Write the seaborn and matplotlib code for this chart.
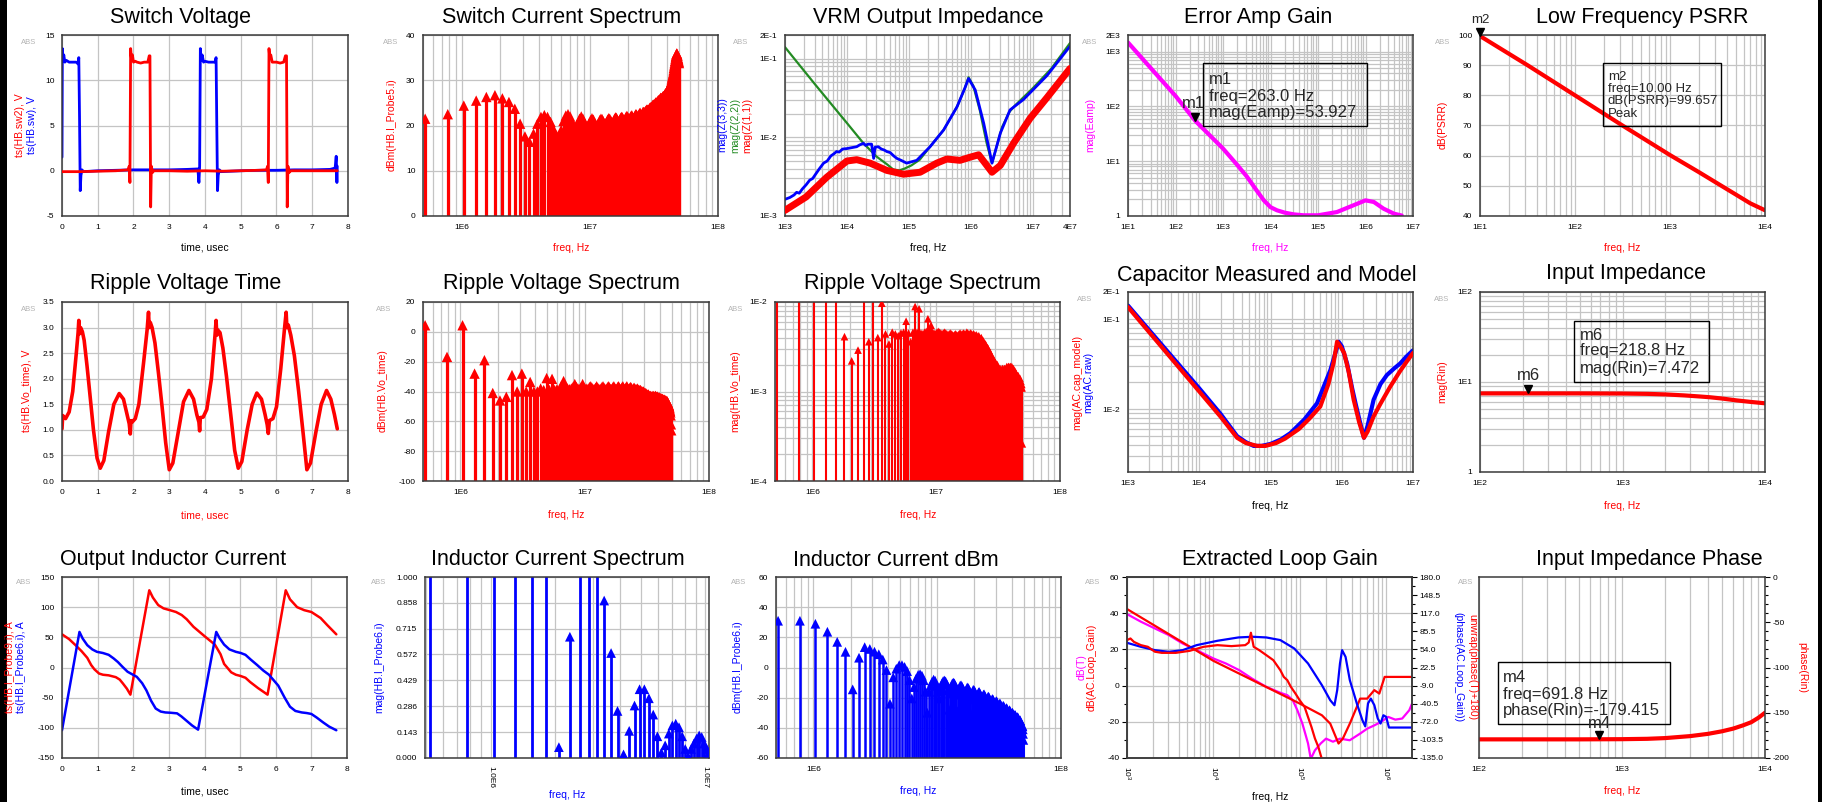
import numpy as np
import pandas as pd
import matplotlib
matplotlib.use('Agg')
import matplotlib.pyplot as plt
import matplotlib.ticker as mt
import matplotlib.transforms as mtrans
from matplotlib.patches import Rectangle
import seaborn as sns

# ---------------- DATA ----------------
F0 = 260e3  # switching fundamental, Hz
harm = list(range(2, 192))     # harmonic numbers shown in full spectra
harm12 = list(range(2, 41))    # harmonic numbers shown in inductor-current mag spectrum

# Panel 1: switch voltage (time us, V)
sw_blue_t = [0.00, 0.01, 0.03, 0.05, 0.08, 0.12, 0.20, 0.30, 0.40, 0.45,
             0.47, 0.49, 0.51, 0.53, 0.56, 0.60, 1.00, 1.50, 2.00, 2.50,
             3.00, 3.50, 3.80, 3.83, 3.85, 3.87, 3.89, 3.92, 3.96, 4.00,
             4.10, 4.20, 4.28, 4.31, 4.33, 4.35, 4.37, 4.40, 4.45, 5.00,
             5.50, 6.00, 6.50, 7.00, 7.50, 7.64, 7.67, 7.69, 7.70]
sw_blue_v = [1.5, 13.5, 12.3, 12.8, 12.0, 12.2, 12.0, 12.0, 12.0, 11.8,
             12.5, 6.0, -2.2, -0.5, 0.1, -0.1, 0.0, 0.05, 0.1, 0.1,
             0.1, 0.15, 0.2, -1.3, 0.5, 13.5, 12.2, 12.8, 12.0, 12.1,
             12.0, 12.0, 12.0, 12.5, 5.0, -2.2, -0.5, 0.1, -0.1, 0.0,
             0.05, 0.05, 0.1, 0.1, 0.15, 0.3, 1.6, -1.3, 0.5]
sw_red_t = [0.00, 0.50, 1.00, 1.50, 1.85, 1.88, 1.90, 1.92, 1.94, 1.97,
            2.00, 2.05, 2.10, 2.20, 2.30, 2.40, 2.44, 2.46, 2.48, 2.50,
            2.53, 2.57, 3.00, 3.50, 4.00, 4.50, 5.00, 5.50, 5.72, 5.75,
            5.77, 5.79, 5.81, 5.84, 5.88, 5.95, 6.00, 6.10, 6.20, 6.25,
            6.28, 6.30, 6.32, 6.35, 6.40, 7.00, 7.70]
sw_red_v = [-0.1, -0.1, -0.05, 0.0, 0.1, 0.5, -1.3, 13.5, 12.5, 12.8,
            12.0, 12.1, 12.0, 11.9, 12.0, 12.0, 12.7, 12.7, -4.0, 0.5,
            -0.2, 0.0, 0.0, -0.05, 0.0, -0.05, 0.0, 0.05, 0.1, 0.5,
            -1.3, 13.5, 12.5, 12.8, 12.0, 12.0, 12.0, 11.9, 12.0, 12.7,
            12.7, -4.0, 0.5, -0.2, 0.0, 0.0, 0.0]

# Panel 2: switch current spectrum (dBm), harmonics 2..191
sw_cur_dbm = [21.5, 22.5, 24.4, 25.5, 26.3, 26.7, 26.0, 25.2, 23.7, 20.4,
              17.6, 16.4, 18.2, 20.4, 21.9, 22.3, 21.9, 20.8, 19.2, 17.8,
              17.5, 19.0, 21.0, 22.2, 22.5, 22.0, 20.8, 19.6, 19.5, 20.5,
              21.5, 22.0, 21.5, 20.5, 19.6, 19.7, 20.5, 21.2, 21.6, 21.3,
              20.6, 20.0, 20.0, 20.6, 21.2, 21.5, 21.4, 20.9, 20.4, 20.4,
              20.8, 21.3, 21.6, 21.5, 21.1, 20.7, 20.6, 21.0, 21.5, 21.8,
              21.7, 21.3, 20.9, 20.9, 21.3, 21.7, 21.9, 21.8, 21.4, 21.1,
              21.2, 21.6, 22.0, 22.1, 21.9, 21.5, 21.3, 21.5, 21.9, 22.2,
              22.2, 21.9, 21.6, 21.6, 21.9, 22.3, 22.5, 22.4, 22.1, 21.9,
              22.0, 22.4, 22.7, 22.8, 22.6, 22.3, 22.3, 22.6, 23.0, 23.0,
              22.9, 22.9, 23.0, 23.2, 23.4, 23.5, 23.5, 23.4, 23.4, 23.5,
              23.7, 23.9, 24.0, 24.0, 24.0, 24.1, 24.3, 24.5, 24.6, 24.6,
              24.5, 24.6, 24.8, 25.0, 25.1, 25.1, 25.0, 25.1, 25.3, 25.5,
              25.6, 25.6, 25.6, 25.7, 25.9, 26.1, 26.1, 26.0, 26.0, 26.1,
              26.3, 26.4, 26.5, 26.5, 26.5, 26.6, 26.8, 27.0, 27.1, 27.1,
              27.1, 27.2, 27.4, 27.6, 27.8, 27.9, 27.9, 28.0, 28.2, 28.5,
              28.8, 29.0, 29.1, 29.3, 29.6, 30.0, 30.4, 30.7, 31.0, 31.3,
              31.7, 32.2, 32.7, 33.1, 33.5, 33.9, 34.3, 34.7, 35.1, 35.4,
              35.7, 35.9, 35.9, 35.7, 35.4, 35.0, 34.7, 34.4, 34.1, 33.8]

# Panel 3: VRM output impedance
z22_f = [1e3, 3e3, 1e4, 1.85e4, 3e4, 4.5e4, 5.6e4, 7e4, 8.5e4, 1.1e5,
         1.5e5, 2.2e5, 3.64e5, 6e5, 8e5, 9.2e5, 1.1e6, 1.4e6, 1.8e6, 2.2e6,
         2.6e6, 3.2e6, 4.2e6, 5.2e6, 7e6, 1e7, 2e7, 4e7]
z22_v = [0.14, 0.048, 0.0152, 0.0084, 0.0057, 0.0045, 0.0039, 0.0038, 0.0040, 0.0044,
         0.0052, 0.0076, 0.0124, 0.0245, 0.042, 0.058, 0.045, 0.022, 0.0085, 0.0047,
         0.0075, 0.0135, 0.021, 0.0255, 0.032, 0.042, 0.075, 0.158]
z33_f = [1e3, 1.2e3, 1.4e3, 1.54e3, 1.7e3, 1.9e3, 2.2e3, 2.5e3, 2.8e3, 3.2e3,
         3.6e3, 4.2e3, 4.8e3, 5.5e3, 6.2e3, 6.8e3, 7.5e3, 8.5e3, 1e4, 1.2e4,
         1.44e4, 1.6e4, 1.85e4, 2.0e4, 2.2e4, 2.5e4, 2.7e4, 2.85e4, 3.2e4, 3.6e4,
         4.0e4, 4.4e4, 5e4, 5.7e4, 6.4e4, 7.5e4, 9.2e4, 1.34e5, 2.2e5, 3.64e5,
         6e5, 8e5, 9.2e5, 1.18e6, 1.62e6, 2.2e6, 3.0e6, 4.3e6, 7.1e6, 1.7e7,
         4e7]
z33_v = [0.00163, 0.00172, 0.00185, 0.0020, 0.00195, 0.0022, 0.0025, 0.00285, 0.0030, 0.0035,
         0.0040, 0.0047, 0.0050, 0.0058, 0.0062, 0.0066, 0.0065, 0.0071, 0.0072, 0.0074,
         0.0076, 0.0080, 0.0084, 0.0079, 0.0082, 0.0082, 0.0054, 0.0075, 0.0076, 0.0071,
         0.0069, 0.0066, 0.0064, 0.0058, 0.0054, 0.0051, 0.0047, 0.0051, 0.0076, 0.0124,
         0.0245, 0.042, 0.056, 0.040, 0.015, 0.0047, 0.0113, 0.0223, 0.0303, 0.061,
         0.144]
z11_f = [1e3, 2.2e3, 4.7e3, 1e4, 1.44e4, 2.37e4, 4.4e4, 8.2e4, 1.52e5, 2.82e5,
         4.1e5, 6.7e5, 9.8e5, 1.34e6, 1.7e6, 2.2e6, 3e6, 4.9e6, 9.1e6, 1.7e7,
         4e7]
z11_v = [0.00118, 0.00175, 0.0031, 0.005, 0.0052, 0.0047, 0.0038, 0.0034, 0.0036, 0.0047,
         0.0053, 0.0051, 0.0056, 0.006, 0.0047, 0.0036, 0.0044, 0.0084, 0.0175, 0.032,
         0.075]

# Panel 4: error amp gain
eamp_f = [10, 100, 263, 1000, 2000, 3200, 5000, 7200, 1.0e4, 1.37e4,
          2.0e4, 3.1e4, 5.0e4, 1.0e5, 2.5e5, 5.6e5, 1.0e6, 1.5e6, 2.4e6, 4.0e6,
          5.8e6]
eamp_v = [1460, 155, 54, 17, 8.5, 5.2, 3.0, 1.94, 1.45, 1.27,
          1.15, 1.07, 1.03, 1.03, 1.18, 1.57, 1.93, 1.8, 1.36, 1.1,
          1.02]

# Panel 5: PSRR
psrr_f = [10, 31.6, 100, 316, 1000, 2000, 3160, 5000, 7000, 10000]
psrr_v = [99.66, 90.0, 80.0, 70.0, 60.2, 54.6, 50.8, 47.0, 44.2, 41.9]

# Panel 6: ripple voltage time
rip_t = [0.00, 0.02, 0.10, 0.20, 0.30, 0.40, 0.45, 0.47, 0.49, 0.52,
         0.57, 0.62, 0.70, 0.78, 0.88, 0.98, 1.07, 1.17, 1.30, 1.45,
         1.60, 1.72, 1.82, 1.88, 1.91, 1.93, 1.96, 2.05, 2.15, 2.28,
         2.38, 2.42, 2.44, 2.47, 2.52, 2.60, 2.70, 2.80, 2.90, 3.00,
         3.10, 3.25, 3.40, 3.55, 3.68, 3.77, 3.83, 3.85, 3.87, 3.95,
         4.05, 4.18, 4.28, 4.31, 4.33, 4.36, 4.42, 4.50, 4.60, 4.72,
         4.83, 4.93, 5.03, 5.18, 5.32, 5.45, 5.58, 5.68, 5.74, 5.77,
         5.80, 5.90, 6.00, 6.12, 6.22, 6.27, 6.29, 6.33, 6.40, 6.50,
         6.62, 6.75, 6.85, 6.95, 7.10, 7.25, 7.40, 7.52, 7.62, 7.70]
rip_v = [1.02, 1.28, 1.22, 1.35, 1.75, 2.50, 2.90, 3.14, 2.88, 3.00,
         2.92, 2.75, 2.25, 1.70, 1.00, 0.45, 0.25, 0.40, 0.95, 1.50,
         1.71, 1.60, 1.30, 1.12, 0.92, 1.18, 1.15, 1.22, 1.50, 2.30,
         2.95, 3.30, 3.00, 3.10, 3.00, 2.70, 2.10, 1.45, 0.75, 0.22,
         0.35, 0.95, 1.55, 1.77, 1.60, 1.30, 1.15, 0.98, 1.24, 1.25,
         1.40, 2.00, 2.85, 3.14, 2.85, 2.95, 2.90, 2.60, 2.05, 1.30,
         0.60, 0.25, 0.38, 1.00, 1.50, 1.72, 1.60, 1.30, 1.10, 0.93,
         1.18, 1.22, 1.45, 2.20, 2.95, 3.30, 3.00, 3.05, 2.85, 2.45,
         1.75, 0.90, 0.22, 0.35, 0.95, 1.50, 1.77, 1.60, 1.30, 1.02]

# Panel 7: ripple voltage spectrum (dBm)
rip_dbm = [4.4, -16.8, 4.4, -28, -19, -41, -46, -43.6, -29, -40,
           -28, -40, -33.6, -40, -40, -38, -39, -31, -39, -31.5,
           -39, -38.5, -39, -36, -33, -37, -38, -38.5, -38, -37,
           -35, -37, -38, -38.5, -37, -35, -37.5, -38.5, -38, -38.5,
           -37, -36.5, -37.5, -38.5, -38.5, -37.5, -36.5, -37.5, -38.5, -38.5,
           -38, -37, -36.5, -37.5, -38.5, -38.5, -38, -37, -36.5, -37.5,
           -38.5, -38.5, -38, -37, -36.5, -37.5, -38.5, -38.5, -38, -37,
           -36.5, -37.5, -38.5, -38.5, -38, -37, -36.5, -37.5, -38.5, -38.5,
           -38, -37, -36.5, -37.5, -38.5, -38.5, -38, -37.5, -37, -37.5,
           -38.5, -39, -38.5, -38, -37.5, -38, -38.5, -39, -39, -38.5,
           -38, -38.5, -39, -39.5, -39.5, -39, -39, -39.5, -40, -40.5,
           -40.5, -40, -40, -40.5, -41, -41.5, -41.5, -41, -41.5, -42,
           -42.5, -42.5, -42, -42, -42.5, -43, -43.5, -43.5, -43, -43,
           -43.5, -44, -44, -43.5, -43, -43, -43.5, -44, -44, -43.5,
           -43, -43, -43.5, -44, -44, -43.5, -43.5, -44, -44.5, -44.5,
           -44, -44, -44.5, -45, -45, -44.5, -44.5, -45, -45.5, -45.5,
           -45, -45, -45.5, -46, -46, -45.5, -45.5, -46, -46.5, -46.5,
           -46, -46, -46.5, -47, -47, -46.5, -47, -47.5, -48, -48.5,
           -49, -49.5, -50, -51, -52, -53, -54, -56, -62, -66]

# Panel 8: ripple voltage spectrum (mag)
rip_mag = [0.525, 0.046, 0.525, 0.0126, 0.035, 0.0041, 0.0022, 0.0029, 0.011, 0.0036,
           0.0126, 0.0040, 0.0097, 0.0044, 0.0034, 0.0046, 0.0044, 0.0042, 0.0045, 0.0046,
           0.0061, 0.0045, 0.0036, 0.0046, 0.0089, 0.0046, 0.0084, 0.0045, 0.0044, 0.0046,
           0.0047, 0.0065, 0.0047, 0.0055, 0.0046, 0.0045, 0.0044, 0.0046, 0.0047, 0.0046,
           0.0045, 0.0044, 0.0045, 0.0046, 0.0045, 0.0044, 0.0043, 0.0044, 0.0045, 0.0044,
           0.0043, 0.0042, 0.0043, 0.0044, 0.0043, 0.0042, 0.0043, 0.0044, 0.0045, 0.0044,
           0.0043, 0.0044, 0.0045, 0.0044, 0.0043, 0.0044, 0.0046, 0.0045, 0.0044, 0.0043,
           0.0044, 0.0045, 0.0044, 0.0042, 0.0043, 0.0044, 0.0043, 0.0041, 0.0042, 0.0043,
           0.0042, 0.0040, 0.0041, 0.0042, 0.0040, 0.0038, 0.0039, 0.0040, 0.0038, 0.0036,
           0.0037, 0.0036, 0.0034, 0.0033, 0.0034, 0.0033, 0.0031, 0.0030, 0.0031, 0.0030,
           0.0028, 0.0027, 0.0028, 0.0027, 0.0025, 0.0024, 0.0025, 0.0024, 0.0023, 0.0022,
           0.0023, 0.0022, 0.0021, 0.0020, 0.0021, 0.0020, 0.0019, 0.0019, 0.0020, 0.0019,
           0.0017, 0.0017, 0.0018, 0.0017, 0.0016, 0.0017, 0.0018, 0.0017, 0.0016, 0.0017,
           0.0018, 0.0018, 0.0017, 0.0016, 0.0017, 0.0018, 0.0018, 0.0017, 0.0016, 0.0017,
           0.0018, 0.0019, 0.0018, 0.0017, 0.0018, 0.0019, 0.0019, 0.0018, 0.0017, 0.0018,
           0.0019, 0.0019, 0.0018, 0.0017, 0.0018, 0.0019, 0.0018, 0.0017, 0.0016, 0.0017,
           0.0018, 0.0017, 0.0016, 0.0016, 0.0017, 0.0016, 0.0015, 0.0015, 0.0016, 0.0015,
           0.0014, 0.0015, 0.0015, 0.0014, 0.0014, 0.0015, 0.0014, 0.0013, 0.0014, 0.0013,
           0.0013, 0.0014, 0.0013, 0.0012, 0.0013, 0.0012, 0.0011, 0.0012, 0.0011, 0.00026]

# Panel 9: capacitor measured / model
cap_raw_f = [1e3, 1e4, 2e4, 3.4e4, 4.5e4, 5.8e4, 7.5e4, 1e5, 1.4e5, 1.9e5,
             3e5, 4.5e5, 6.93e5, 8e5, 9.05e5, 1.0e6, 1.19e6, 1.4e6, 1.56e6, 1.8e6,
             2.05e6, 2.3e6, 2.8e6, 3.5e6, 4.3e6, 5.5e6, 6.6e6, 8e6, 1e7]
cap_raw_v = [0.1415, 0.017, 0.0088, 0.005, 0.0043, 0.0039, 0.0039, 0.0041, 0.0046, 0.0054,
             0.0077, 0.0116, 0.0272, 0.040, 0.056, 0.050, 0.032, 0.017, 0.0116, 0.0072,
             0.0048, 0.0065, 0.0127, 0.019, 0.0239, 0.0285, 0.0321, 0.038, 0.045]
cap_mod_f = [1e3, 1e4, 2e4, 3.4e4, 4.5e4, 6.5e4, 8.5e4, 1.2e5, 1.6e5, 2.5e5,
             3.5e5, 5e5, 6.5e5, 7.7e5, 8.6e5, 9.5e5, 1.08e6, 1.25e6, 1.47e6, 1.75e6,
             2.05e6, 2.3e6, 2.8e6, 3.5e6, 4.8e6, 6.5e6, 8e6, 1e7]
cap_mod_v = [0.136, 0.0157, 0.0082, 0.0048, 0.0042, 0.0039, 0.0039, 0.0042, 0.0047, 0.006,
             0.0078, 0.0107, 0.019, 0.033, 0.056, 0.05, 0.042, 0.026, 0.0127, 0.0072,
             0.0048, 0.0056, 0.0083, 0.0115, 0.0178, 0.026, 0.033, 0.042]

# Panel 10: input impedance
rin_f = [100, 200, 500, 1000, 1500, 2000, 2700, 3500, 4100, 5000, 6300, 8000, 10000]
rin_v = [7.47, 7.47, 7.47, 7.44, 7.38, 7.28, 7.1, 6.9, 6.77, 6.55, 6.25, 6.0, 5.8]

# Panel 11: output inductor currents
ind9_t = [0.00, 0.20, 0.38, 0.55, 0.71, 0.82, 0.91, 1.04, 1.15, 1.31,
          1.51, 1.62, 1.71, 1.82, 1.92, 2.45, 2.55, 2.70, 2.85, 3.03,
          3.20, 3.36, 3.50, 3.69, 4.02, 4.29, 4.45, 4.55, 4.75, 4.88,
          5.01, 5.15, 5.28, 5.50, 5.77, 6.28, 6.40, 6.60, 6.80, 7.00,
          7.26, 7.45, 7.70]
ind9_v = [55, 47, 37, 27, 16, 4, -3, -10, -12, -13,
          -16, -20, -26.5, -35, -45, 128, 116, 103.5, 98, 95,
          92, 87, 80, 67.5, 51, 38, 22, 6, -8, -12,
          -14, -17, -24, -34, -45, 128, 113, 100, 95, 92,
          82, 70, 55]
ind6_t = [0.00, 0.49, 0.58, 0.71, 0.85, 0.98, 1.15, 1.31, 1.45, 1.57,
          1.70, 1.84, 2.10, 2.25, 2.37, 2.50, 2.63, 2.77, 2.90, 3.05,
          3.23, 3.35, 3.49, 3.65, 3.82, 4.33, 4.42, 4.55, 4.70, 4.88,
          5.02, 5.15, 5.30, 5.48, 5.65, 5.81, 6.07, 6.25, 6.40, 6.55,
          6.73, 6.87, 7.00, 7.15, 7.33, 7.50, 7.70]
ind6_v = [-104, 59, 48, 37, 30, 26, 24, 21, 15, 9,
          1, -7, -15.5, -26, -38, -55, -68, -73, -74.5, -75,
          -76, -81, -88, -96, -103, 59, 49, 38, 30, 26,
          24, 21, 13, 4, -5, -12, -30, -50, -65, -72,
          -74.5, -75.5, -77, -83, -91, -98, -104]

# Panel 12: inductor current spectrum (mag), harmonics 2..40
ind_mag = [11.2, 11.2, 8.9, 4.8, 2.2, 1.05, 0.06, 0.67, 1.5, 1.3,
           1.05, 0.87, 0.58, 0.26, 0.02, 0.15, 0.29, 0.38, 0.38, 0.33,
           0.24, 0.12, 0.03, 0.07, 0.135, 0.18, 0.19, 0.17, 0.12, 0.05,
           0.01, 0.05, 0.08, 0.107, 0.125, 0.116, 0.08, 0.05, 0.03]

# Panel 13: inductor current spectrum (dBm), harmonics 2..191
ind_dbm = [31.0, 31.0, 29.0, 23.7, 17.0, 10.4, -14.5, 6.5, 13.5, 12.3,
           10.5, 8.8, 5.3, -1.7, -24.0, -6.5, -0.8, 1.6, 1.6, 0.4,
           -2.4, -8.4, -20.5, -13.0, -7.4, -4.9, -4.4, -5.4, -8.4, -16.0,
           -30.0, -16.0, -12.0, -9.4, -8.0, -8.7, -12.0, -16.0, -20.5, -14.0,
           -10.5, -9.0, -8.6, -9.2, -11.0, -15.0, -28.0, -17.0, -12.5, -10.5,
           -10.0, -10.5, -12.0, -16.0, -29.0, -18.0, -13.5, -12.0, -11.8, -12.5,
           -14.0, -18.0, -30.0, -19.5, -15.0, -13.5, -13.2, -14.0, -15.5, -19.5,
           -31.0, -20.5, -16.5, -15.0, -14.8, -15.5, -17.0, -21.0, -32.0, -22.0,
           -18.0, -16.5, -16.2, -17.0, -18.5, -22.5, -33.0, -23.5, -19.5, -18.0,
           -17.8, -18.5, -20.0, -24.0, -34.0, -25.0, -21.0, -19.5, -19.3, -20.0,
           -21.5, -25.5, -35.0, -26.5, -22.5, -21.0, -21.0, -21.5, -23.0, -27.0,
           -36.0, -28.0, -24.0, -22.5, -22.3, -23.0, -24.5, -28.5, -37.0, -29.5,
           -25.5, -24.0, -24.0, -24.5, -26.0, -30.0, -38.0, -31.0, -27.0, -25.5,
           -25.5, -26.0, -27.5, -31.5, -39.0, -32.5, -28.5, -27.0, -27.0, -27.5,
           -29.0, -33.0, -40.0, -34.0, -30.0, -28.5, -28.3, -29.0, -30.5, -34.5,
           -41.0, -35.5, -31.5, -30.0, -30.0, -30.5, -32.0, -36.0, -42.0, -37.0,
           -33.0, -31.5, -31.5, -32.0, -33.5, -37.5, -43.0, -38.5, -34.5, -33.0,
           -33.0, -33.5, -35.0, -39.0, -44.0, -40.0, -36.0, -35.0, -35.0, -36.0,
           -37.5, -41.5, -46.0, -42.5, -39.0, -38.5, -39.0, -41.0, -44.0, -48.0]

# Panel 14: extracted loop gain
dbT_f = [1.0e3, 1.45e3, 2.1e3, 3.05e3, 4.4e3, 6.4e3, 1.0e4, 1.4e4, 2.0e4, 2.8e4,
         4.1e4, 6.0e4, 7.2e4, 8.3e4, 9.4e4, 1.075e5, 1.16e5, 1.25e5, 1.345e5, 1.5e5,
         1.75e5, 2.02e5, 2.43e5, 2.93e5, 3.8e5, 5.02e5, 6.05e5, 7.3e5, 8.8e5, 1.06e6,
         1.28e6, 1.54e6, 1.86e6, 2.0e6]
dbT_v = [39.5, 35.3, 31.6, 27.9, 23.3, 19.6, 15.0, 12.2, 8.5, 3.9,
         -0.7, -4.0, -5.3, -8.0, -13.6, -21.0, -26.5, -32.0, -40.5, -35.8,
         -32.0, -29.3, -31.0, -29.3, -30.2, -26.5, -23.8, -22.0, -20.0, -17.3,
         -18.8, -18.2, -13.6, -10.0]
dbG_f = [1.0e3, 1.0e4, 1.0e5, 1.81e5, 2.26e5, 2.62e5, 2.82e5, 3.16e5, 3.81e5, 4.59e5,
         5.02e5, 6.05e5, 7.32e5, 8.36e5, 9.64e5, 2.0e6]
dbG_v = [42.3, 13.7, -9.9, -16.4, -21.0, -28.4, -32.0, -29.3, -21.0, -11.8,
         -7.2, -7.2, -2.5, -4.4, 4.8, 4.8]
phT_f = [1000, 1097, 1204, 1449, 1745, 2101, 2529, 3666, 5313, 7700,
         11160, 16170, 23440, 25710, 27240, 29330, 34000, 41060, 49500, 59700,
         65400, 71900, 78900, 89300, 100000, 113900, 124800, 136900, 150200, 164700,
         180700]
phT_v = [70.2, 73.0, 67.0, 61.4, 58.5, 50.0, 48.0, 48.0, 51.5, 58.5,
         61.4, 59.7, 61.4, 66.0, 83.0, 58.5, 52.7, 44.0, 35.3, 17.8,
         6.2, 0.4, -11.0, -22.8, -34.5, -46.0, -63.5, -81.0, -101.0, -116.0,
         -137.0]
phG_f = [1000, 1449, 2101, 3046, 4417, 6404, 11160, 19510, 28400, 41060,
         59700, 86500, 125000, 181000, 226000, 253000, 272000, 293000, 310000, 340000,
         381000, 459000, 533000, 575000, 619000, 667000, 732000, 803000, 865000, 932000,
         1004000, 1082000, 2000000]
phG_v = [65.5, 58.5, 52.7, 49.8, 52.7, 61.4, 69.0, 74.8, 76.0, 74.8,
         70.2, 55.6, 29.5, -8.3, -34.5, -43.2, -17.0, 29.5, 52.7, 41.0,
         0.4, -40.0, -69.3, -80.0, -40.0, -31.6, -43.0, -66.4, -75.0, -60.6,
         -63.5, -82.0, -82.0]

# Panel 15: input impedance phase
phrin_f = [100, 200, 500, 1000, 1500, 2000, 3000, 4000, 5000, 6000, 7000, 8000, 9000, 10000]
phrin_v = [-179.4, -179.4, -179.4, -179.2, -178.8, -178.0, -175.8, -173.3, -170.5, -167.5,
           -164.0, -160.5, -155.5, -150.0]

# ---------------- STYLE ----------------
sns.set_theme(style='white')
plt.rcParams['font.family'] = ['Liberation Sans', 'DejaVu Sans']
plt.rcParams['axes.unicode_minus'] = False

W, H = 1822, 802
fig = plt.figure(figsize=(W / 100, H / 100), dpi=100)
fig.patch.set_facecolor('white')

RED = '#ff0000'; BLUE = '#0000ff'; GREEN = '#238b23'; MAG = '#ff00ff'; BLK = '#000000'
GRID = '#c4c4c4'


def mkax(l, t, r, b):
    ax = fig.add_axes([l / W, 1 - b / H, (r - l) / W, (b - t) / H])
    ax.set_facecolor('white')
    for s in ax.spines.values():
        s.set_color('#3a3a3a'); s.set_linewidth(1.1); s.set_visible(True)
    ax.tick_params(which='both', direction='out', labelsize=6, colors='#000000', width=0.8, pad=2)
    ax.tick_params(which='major', length=3.5)
    ax.tick_params(which='minor', length=2)
    ax.set_axisbelow(True)
    return ax


def grid(ax, xminor=False, yminor=False, x=True, y=True):
    if x:
        ax.xaxis.grid(True, which='major', color=GRID, lw=0.9)
    if y:
        ax.yaxis.grid(True, which='major', color=GRID, lw=0.9)
    if xminor:
        ax.xaxis.grid(True, which='minor', color=GRID, lw=0.9)
    if yminor:
        ax.yaxis.grid(True, which='minor', color=GRID, lw=0.9)


def logaxis(axis, ticks, labels):
    axis.set_major_locator(mt.FixedLocator(ticks))
    axis.set_major_formatter(mt.FixedFormatter(labels))
    axis.set_minor_locator(mt.LogLocator(base=10, subs=np.arange(2, 10), numticks=40))
    axis.set_minor_formatter(mt.NullFormatter())


def linaxis(axis, step, minor, fmt=None):
    axis.set_major_locator(mt.MultipleLocator(step))
    axis.set_minor_locator(mt.MultipleLocator(minor))
    if fmt:
        axis.set_major_formatter(mt.FormatStrFormatter(fmt))


def curve(ax, x, y, color, lw, z=2):
    df = pd.DataFrame({'x': x, 'y': y})
    sns.lineplot(data=df, x='x', y='y', ax=ax, color=color, linewidth=lw, sort=False,
                 estimator=None, legend=False, zorder=z)
    ax.set_xlabel(''); ax.set_ylabel('')


def spectrum(ax, f, v, base, color, lw, ms):
    ax.vlines(f, base, v, colors=color, linewidth=lw, zorder=2)
    sns.scatterplot(x=f, y=v, ax=ax, marker='^', s=ms ** 2, color=color, edgecolor='none',
                    linewidth=0, zorder=3, legend=False)
    ax.set_xlabel(''); ax.set_ylabel('')


def ftext(x, y, s, **kw):
    fig.text(x / W, 1 - y / H, s, **kw)


def title(x, y, s):
    ftext(x, y, s, ha='center', va='center', fontsize=15.5, color='black')


def xlab(x, y, s, c):
    ftext(x, y, s, ha='center', va='center', fontsize=7.5, color=c)


def ylab(x, y, s, c, rot=90):
    ftext(x, y, s, ha='center', va='center', fontsize=7.5, color=c, rotation=rot)


def absl(x, y):
    ftext(x, y, 'ABS', ha='center', va='center', fontsize=5.5, color='#a6a6a6', alpha=0.85)


def box(x0, y0, x1, y1):
    fig.add_artist(Rectangle((x0 / W, 1 - y1 / H), (x1 - x0) / W, (y1 - y0) / H,
                             transform=fig.transFigure, fill=False, ec='black', lw=1.0))


def marker(ax, x, y):
    tr = mtrans.offset_copy(ax.transData, fig=fig, x=0, y=4, units='dots')
    ax.plot([x], [y], marker='v', color='black', ms=6, transform=tr, clip_on=False, zorder=6, ls='none')


fh = [n * F0 for n in harm]
fh12 = [n * F0 for n in harm12]

# ---------- Panel 1 ----------
ax = mkax(62, 35, 348, 216)
curve(ax, sw_blue_t, sw_blue_v, BLUE, 2.0)
curve(ax, sw_red_t, sw_red_v, RED, 2.0, z=3)
ax.set_xlim(0, 8); ax.set_ylim(-5, 15)
linaxis(ax.xaxis, 1, 0.2); linaxis(ax.yaxis, 5, 1)
grid(ax)

# ---------- Panel 2 ----------
ax = mkax(423, 35, 718, 216)
ax.set_xscale('log')
spectrum(ax, fh, sw_cur_dbm, 0, RED, 2.3, 7.5)
ax.set_xlim(5e5, 1e8); ax.set_ylim(0, 40)
logaxis(ax.xaxis, [1e6, 1e7, 1e8], ['1E6', '1E7', '1E8'])
linaxis(ax.yaxis, 10, 2)
grid(ax, xminor=True)

# ---------- Panel 3 ----------
ax = mkax(785, 35, 1070, 216)
ax.set_xscale('log'); ax.set_yscale('log')
curve(ax, z22_f, z22_v, GREEN, 1.6)
curve(ax, z33_f, z33_v, BLUE, 2.0)
curve(ax, z11_f, z11_v, RED, 5.0, z=3)
ax.set_xlim(1e3, 4e7); ax.set_ylim(1e-3, 2e-1)
logaxis(ax.xaxis, [1e3, 1e4, 1e5, 1e6, 1e7, 4e7], ['1E3', '1E4', '1E5', '1E6', '1E7', '4E7'])
logaxis(ax.yaxis, [1e-3, 1e-2, 1e-1, 2e-1], ['1E-3', '1E-2', '1E-1', '2E-1'])
grid(ax, True, True)

# ---------- Panel 4 ----------
ax = mkax(1128, 35, 1413, 216)
ax.set_xscale('log'); ax.set_yscale('log')
curve(ax, eamp_f, eamp_v, MAG, 3.0)
ax.set_xlim(10, 1e7); ax.set_ylim(1, 2e3)
logaxis(ax.xaxis, [1e1, 1e2, 1e3, 1e4, 1e5, 1e6, 1e7], ['1E1', '1E2', '1E3', '1E4', '1E5', '1E6', '1E7'])
logaxis(ax.yaxis, [1, 10, 100, 1000, 2000], ['1', '1E1', '1E2', '1E3', '2E3'])
grid(ax, True, True)
marker(ax, 263, 53.927)
ftext(1193, 104, 'm1', ha='center', va='center', fontsize=12)
box(1203, 63, 1367, 126)
for yy, s in zip([79, 96, 113], ['m1', 'freq=263.0 Hz', 'mag(Eamp)=53.927']):
    ftext(1209, yy, s, ha='left', va='center', fontsize=12)

# ---------- Panel 5 ----------
ax = mkax(1480, 35, 1765, 216)
ax.set_xscale('log')
curve(ax, psrr_f, psrr_v, RED, 3.0)
ax.set_xlim(10, 1e4); ax.set_ylim(40, 100)
logaxis(ax.xaxis, [1e1, 1e2, 1e3, 1e4], ['1E1', '1E2', '1E3', '1E4'])
linaxis(ax.yaxis, 10, 2.5)
grid(ax, xminor=True)
marker(ax, 10, 99.657)
ftext(1480, 20, 'm2', ha='center', va='center', fontsize=9.5)
box(1603, 63, 1721, 126)
for yy, s in zip([77, 89, 101, 114], ['m2', 'freq=10.00 Hz', 'dB(PSRR)=99.657', 'Peak']):
    ftext(1608, yy, s, ha='left', va='center', fontsize=9.5)

# ---------- Panel 6 ----------
ax = mkax(62, 302, 348, 481)
curve(ax, rip_t, rip_v, RED, 2.6)
ax.set_xlim(0, 8); ax.set_ylim(0, 3.5)
linaxis(ax.xaxis, 1, 0.2); linaxis(ax.yaxis, 0.5, 0.1, '%.1f')
grid(ax)

# ---------- Panel 7 ----------
ax = mkax(423, 302, 709, 481)
ax.set_xscale('log')
spectrum(ax, fh, rip_dbm, -100, RED, 2.3, 7.5)
ax.set_xlim(5e5, 1e8); ax.set_ylim(-100, 20)
logaxis(ax.xaxis, [1e6, 1e7, 1e8], ['1E6', '1E7', '1E8'])
linaxis(ax.yaxis, 20, 10)
grid(ax, xminor=True)

# ---------- Panel 8 ----------
ax = mkax(775, 302, 1060, 481)
ax.set_xscale('log'); ax.set_yscale('log')
spectrum(ax, fh, rip_mag, 1e-4, RED, 1.5, 5.5)
ax.set_xlim(5e5, 1e8); ax.set_ylim(1e-4, 1e-2)
logaxis(ax.xaxis, [1e6, 1e7, 1e8], ['1E6', '1E7', '1E8'])
logaxis(ax.yaxis, [1e-4, 1e-3, 1e-2], ['1E-4', '1E-3', '1E-2'])
grid(ax, True, True)

# ---------- Panel 9 ----------
ax = mkax(1128, 292, 1413, 472)
ax.set_xscale('log'); ax.set_yscale('log')
curve(ax, cap_raw_f, cap_raw_v, BLUE, 3.0)
curve(ax, cap_mod_f, cap_mod_v, RED, 3.0, z=3)
ax.set_xlim(1e3, 1e7); ax.set_ylim(2e-3, 2e-1)
logaxis(ax.xaxis, [1e3, 1e4, 1e5, 1e6, 1e7], ['1E3', '1E4', '1E5', '1E6', '1E7'])
logaxis(ax.yaxis, [1e-2, 1e-1, 2e-1], ['1E-2', '1E-1', '2E-1'])
grid(ax, True, True)

# ---------- Panel 10 ----------
ax = mkax(1480, 292, 1765, 472)
ax.set_xscale('log'); ax.set_yscale('log')
curve(ax, rin_f, rin_v, RED, 3.0)
ax.set_xlim(100, 1e4); ax.set_ylim(1, 100)
logaxis(ax.xaxis, [1e2, 1e3, 1e4], ['1E2', '1E3', '1E4'])
logaxis(ax.yaxis, [1, 10, 100], ['1', '1E1', '1E2'])
grid(ax, True, True)
marker(ax, 218.8, 7.472)
ftext(1528, 376, 'm6', ha='center', va='center', fontsize=12)
box(1574, 321, 1709, 382)
for yy, s in zip([336, 351, 368], ['m6', 'freq=218.8 Hz', 'mag(Rin)=7.472']):
    ftext(1580, yy, s, ha='left', va='center', fontsize=12)

# ---------- Panel 11 ----------
ax = mkax(62, 577, 347, 758)
curve(ax, ind9_t, ind9_v, RED, 1.8)
curve(ax, ind6_t, ind6_v, BLUE, 1.8)
ax.set_xlim(0, 8); ax.set_ylim(-150, 150)
linaxis(ax.xaxis, 1, 0.2); linaxis(ax.yaxis, 50, 10)
grid(ax)

# ---------- Panel 12 ----------
ax = mkax(425, 577, 709, 758)
ax.set_xscale('log')
spectrum(ax, fh12, ind_mag, 0, BLUE, 2.0, 7)
ax.set_xlim(4.95e5, 1.04e7); ax.set_ylim(0, 1.0)
logaxis(ax.xaxis, [1e6, 1e7], ['1.0E6', '1.0E7'])
ax.tick_params(axis='x', labelrotation=-90)
yt = [0.0, 0.143, 0.286, 0.429, 0.572, 0.715, 0.858, 1.0]
ax.yaxis.set_major_locator(mt.FixedLocator(yt))
ax.yaxis.set_major_formatter(mt.FixedFormatter(['%.3f' % v for v in yt]))
ax.yaxis.set_minor_locator(mt.FixedLocator([(a + b) / 2 for a, b in zip(yt[:-1], yt[1:])]))
grid(ax, xminor=True)

# ---------- Panel 13 ----------
ax = mkax(776, 577, 1061, 758)
ax.set_xscale('log')
spectrum(ax, fh, ind_dbm, -60, BLUE, 1.8, 7)
ax.set_xlim(5e5, 1e8); ax.set_ylim(-60, 60)
logaxis(ax.xaxis, [1e6, 1e7, 1e8], ['1E6', '1E7', '1E8'])
linaxis(ax.yaxis, 20, 10)
grid(ax, xminor=True)

# ---------- Panel 14 ----------
ax = mkax(1127, 577, 1412, 758)
ax.set_xscale('log')
curve(ax, dbT_f, dbT_v, MAG, 1.6)
curve(ax, dbG_f, dbG_v, RED, 1.6)
ax.set_xlim(1e3, 2e6); ax.set_ylim(-40, 60)
logaxis(ax.xaxis, [1e3, 1e4, 1e5, 1e6, 2e6], ['1E3', '1E4', '1E5', '1E6', '2E6'])
ax.tick_params(axis='x', labelrotation=-90)
linaxis(ax.yaxis, 20, 10)
grid(ax, xminor=True)
ax2 = ax.twinx()
ax2.set_xscale('log')
ax2.tick_params(which='both', direction='out', labelsize=6, colors='#000000', width=0.8, pad=2)
ax2.tick_params(which='major', length=3.5); ax2.tick_params(which='minor', length=2)
for s in ax2.spines.values():
    s.set_color('#3a3a3a'); s.set_linewidth(1.1)
curve(ax2, phG_f, phG_v, BLUE, 1.6)
curve(ax2, phT_f, phT_v, RED, 1.6)
ax2.set_xlim(1e3, 2e6); ax2.set_ylim(-135, 180)
rt = [-135 + 31.5 * i for i in range(11)]
ax2.yaxis.set_major_locator(mt.FixedLocator(rt))
ax2.yaxis.set_major_formatter(mt.FixedFormatter(['%.1f' % v for v in rt]))
ax2.yaxis.set_minor_locator(mt.FixedLocator([v + 15.75 for v in rt[:-1]]))
ax2.grid(False)

# ---------- Panel 15 ----------
ax = mkax(1479, 577, 1765, 758)
ax.set_xscale('log')
curve(ax, phrin_f, phrin_v, RED, 3.0)
ax.set_xlim(100, 1e4); ax.set_ylim(-200, 0)
logaxis(ax.xaxis, [1e2, 1e3, 1e4], ['1E2', '1E3', '1E4'])
linaxis(ax.yaxis, 50, 10)
ax.yaxis.tick_right()
ax.tick_params(axis='y', which='both', left=False, right=True, labelleft=False, labelright=True)
grid(ax, xminor=True, y=False)
marker(ax, 691.8, -179.415)
box(1498, 662, 1670, 724)
for yy, s in zip([677, 694, 711], ['m4', 'freq=691.8 Hz', 'phase(Rin)=-179.415']):
    ftext(1503, yy, s, ha='left', va='center', fontsize=12)
ftext(1599, 723, 'm4', ha='center', va='center', fontsize=12)

# ---------------- TEXTS ----------------
for x, y, s in [(180, 18, 'Switch Voltage'), (562, 18, 'Switch Current Spectrum'),
                (928, 18, 'VRM Output Impedance'), (1258, 18, 'Error Amp Gain'),
                (1642, 18, 'Low Frequency PSRR'), (186, 284, 'Ripple Voltage Time'),
                (561, 283, 'Ripple Voltage Spectrum'), (922, 284, 'Ripple Voltage Spectrum'),
                (1267, 275, 'Capacitor Measured and Model'), (1626, 274, 'Input Impedance'),
                (173, 560, 'Output Inductor Current'), (558, 560, 'Inductor Current Spectrum'),
                (896, 560, 'Inductor Current dBm'), (1280, 560, 'Extracted Loop Gain'),
                (1649, 560, 'Input Impedance Phase')]:
    title(x, y, s)

for x, y, s, c in [(205, 248, 'time, usec', BLK), (571, 248, 'freq, Hz', RED),
                   (928, 248, 'freq, Hz', BLK), (1270, 248, 'freq, Hz', MAG),
                   (1622, 248, 'freq, Hz', RED), (205, 515, 'time, usec', RED),
                   (566, 515, 'freq, Hz', RED), (918, 515, 'freq, Hz', RED),
                   (1270, 506, 'freq, Hz', BLK), (1622, 506, 'freq, Hz', RED),
                   (205, 791, 'time, usec', BLK), (567, 795, 'freq, Hz', BLUE),
                   (918, 791, 'freq, Hz', BLUE), (1270, 797, 'freq, Hz', BLK),
                   (1622, 791, 'freq, Hz', RED)]:
    xlab(x, y, s, c)

for x, y, s, c, r in [(20, 125, 'ts(HB.sw2), V', RED, 90), (32, 125, 'ts(HB.sw), V', BLUE, 90),
                      (392, 125, 'dBm(HB.I_Probe5.i)', RED, 90),
                      (722, 125, 'mag(Z(3,3))', BLUE, 90), (735, 125, 'mag(Z(2,2))', GREEN, 90),
                      (747, 125, 'mag(Z(1,1))', RED, 90),
                      (1090, 125, 'mag(Eamp)', MAG, 90), (1443, 125, 'dB(PSRR)', RED, 90),
                      (27, 391, 'ts(HB.Vo_time), V', RED, 90), (383, 391, 'dBm(HB.Vo_time)', RED, 90),
                      (735, 391, 'mag(HB.Vo_time)', RED, 90),
                      (1077, 382, 'mag(AC.cap_model)', RED, 90), (1088, 382, 'mag(AC.raw)', BLUE, 90),
                      (1442, 382, 'mag(Rin)', RED, 90),
                      (10, 667, 'ts(HB.I_Probe9.i), A', RED, 90), (21, 667, 'ts(HB.I_Probe6.i), A', BLUE, 90),
                      (379, 667, 'mag(HB.I_Probe6.i)', BLUE, 90), (738, 667, 'dBm(HB.I_Probe6.i)', BLUE, 90),
                      (1082, 667, 'dB(T)', MAG, 90), (1092, 667, 'dB(AC.Loop_Gain)', RED, 90),
                      (1458, 667, '(phase(AC.Loop_Gain))', BLUE, 270),
                      (1472, 667, 'unwrap(phase(T)+180)', RED, 270),
                      (1802, 667, 'phase(Rin)', RED, 270)]:
    ylab(x, y, s, c, r)

for x, y in [(29, 42), (391, 42), (741, 42), (1090, 42), (1443, 42),
             (29, 309), (384, 309), (736, 309), (1085, 299), (1442, 299),
             (24, 582), (379, 582), (739, 582), (1093, 582), (1466, 582)]:
    absl(x, y)

# black frame bars at the left and right edges
fig.add_artist(Rectangle((0, 0), 7 / W, 1, transform=fig.transFigure, color='black', lw=0))
fig.add_artist(Rectangle((1818 / W, 0), 4 / W, 1, transform=fig.transFigure, color='black', lw=0))

fig.savefig('out.png', dpi=100, facecolor='white')
